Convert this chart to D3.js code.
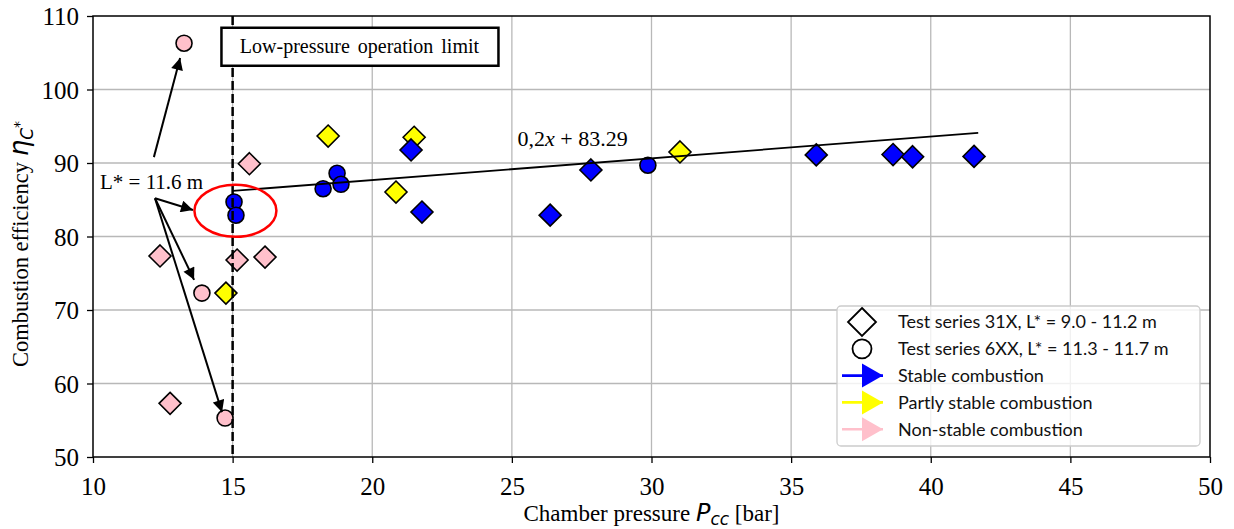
<!DOCTYPE html>
<html>
<head>
<meta charset="utf-8">
<script src="https://cdn.jsdelivr.net/npm/d3@7"></script>
<style>
  body { margin: 0; background: #fff; }
  svg { display: block; }
</style>
</head>
<body>
<div id="chart"></div>
<script>
// data
const xTicks = [10, 15, 20, 25, 30, 35, 40, 45, 50];
const yTicks = [50, 60, 70, 80, 90, 100, 110];

// test series 31X (diamonds)
const diamondP   = [15.6, 15.16, 16.16, 12.4, 12.76, 14.76, 18.42, 20.85, 21.5, 31.02, 21.39, 21.78, 26.37, 27.83, 35.9, 38.65, 39.35, 41.55];
const diamondEta = [89.9, 76.8, 77.2, 77.35, 57.3, 72.3, 93.67, 86.05, 93.5, 91.5, 91.77, 83.33, 82.9, 89.05, 91.1, 91.15, 90.85, 90.9];
const diamondState = ["non", "non", "non", "non", "non", "partly", "partly", "partly", "partly", "partly",
  "stable", "stable", "stable", "stable", "stable", "stable", "stable", "stable"];

// test series 6XX (circles)
const circleP   = [13.26, 13.9, 14.73, 15.05, 15.12, 18.24, 18.74, 18.88, 29.87];
const circleEta = [106.3, 72.3, 55.3, 84.7, 82.9, 86.5, 88.6, 87.1, 89.7];
const circleState = ["non", "non", "non", "stable", "stable", "stable", "stable", "stable", "stable"];

// fitted line as drawn in the figure
const trendP = [15, 41.7];
const trendEta = [86.2, 94.1];

const stateColor = { stable: "#0000ff", partly: "#ffff00", non: "#ffc0cb" };

const svgWidth = 1234;
const svgHeight = 529;
const plot = { left: 93, right: 1210, top: 16, bottom: 457 };

const svg = d3.select("#chart").append("svg")
  .attr("width", svgWidth)
  .attr("height", svgHeight);

const x = d3.scaleLinear().domain([10, 50]).range([plot.left, plot.right]);
const y = d3.scaleLinear().domain([50, 110]).range([plot.bottom, plot.top]);

const serif = "'Liberation Serif', 'Times New Roman', serif";

// grid
svg.append("g").selectAll("line")
  .data(xTicks.slice(1, -1)).join("line")
  .attr("x1", d => x(d)).attr("x2", d => x(d))
  .attr("y1", plot.top).attr("y2", plot.bottom)
  .attr("stroke", "#b8b8b8").attr("stroke-width", 1.3);
svg.append("g").selectAll("line")
  .data(yTicks.slice(1, -1)).join("line")
  .attr("y1", d => y(d)).attr("y2", d => y(d))
  .attr("x1", plot.left).attr("x2", plot.right)
  .attr("stroke", "#b8b8b8").attr("stroke-width", 1.3);

// axes
const xAxis = svg.append("g")
  .attr("transform", `translate(0, ${plot.bottom})`)
  .call(d3.axisBottom(x).tickValues(xTicks).tickSize(6).tickPadding(8));
const yAxis = svg.append("g")
  .attr("transform", `translate(${plot.left}, 0)`)
  .call(d3.axisLeft(y).tickValues(yTicks).tickSize(6).tickPadding(8));
[xAxis, yAxis].forEach(a => {
  a.select(".domain").remove();
  a.selectAll("line").attr("stroke", "#000").attr("stroke-width", 1.3);
  a.selectAll("text").attr("font-family", serif).attr("font-size", 25).attr("fill", "#000");
});
xAxis.selectAll("text").attr("dy", "0.95em");
yAxis.selectAll("text").attr("dy", "0.34em");

// frame
svg.append("rect")
  .attr("x", plot.left).attr("y", plot.top)
  .attr("width", plot.right - plot.left).attr("height", plot.bottom - plot.top)
  .attr("fill", "none").attr("stroke", "#000").attr("stroke-width", 1.5);

// markers
const diamond = r => `M0,${-r}L${r},0L0,${r}L${-r},0Z`;

svg.append("g").selectAll("path")
  .data(diamondP.map((p, i) => ({ p, eta: diamondEta[i], s: diamondState[i] })))
  .join("path")
  .attr("d", diamond(11))
  .attr("transform", d => `translate(${x(d.p)}, ${y(d.eta)})`)
  .attr("fill", d => stateColor[d.s])
  .attr("stroke", "#000").attr("stroke-width", 1.6);

svg.append("g").selectAll("circle")
  .data(circleP.map((p, i) => ({ p, eta: circleEta[i], s: circleState[i] })))
  .join("circle")
  .attr("cx", d => x(d.p)).attr("cy", d => y(d.eta)).attr("r", 8)
  .attr("fill", d => stateColor[d.s])
  .attr("stroke", "#000").attr("stroke-width", 1.6);

// trend line
svg.append("path")
  .datum(trendP.map((p, i) => [p, trendEta[i]]))
  .attr("d", d3.line().x(d => x(d[0])).y(d => y(d[1])))
  .attr("fill", "none").attr("stroke", "#000").attr("stroke-width", 1.8);

svg.append("text")
  .attr("x", x(25.2)).attr("y", y(92.3))
  .attr("font-family", serif).attr("font-size", 22)
  .selectAll("tspan")
  .data([["0,2", "normal"], ["x", "italic"], [" + 83.29", "normal"]])
  .join("tspan")
  .attr("font-style", d => d[1])
  .text(d => d[0]);

// low pressure limit
svg.append("line")
  .attr("x1", x(15)).attr("x2", x(15))
  .attr("y1", plot.top).attr("y2", plot.bottom)
  .attr("stroke", "#000").attr("stroke-width", 2.5)
  .attr("stroke-dasharray", "9,4");

svg.append("rect")
  .attr("x", x(14.6)).attr("y", y(108.4))
  .attr("width", 277).attr("height", 38)
  .attr("fill", "#fff").attr("stroke", "#000").attr("stroke-width", 2.5);
svg.append("text")
  .attr("x", x(14.6) + 138).attr("y", y(108.4) + 25)
  .attr("text-anchor", "middle")
  .attr("font-family", serif).attr("font-size", 20)
  .attr("word-spacing", 3)
  .text("Low-pressure operation limit");

// red ellipse around the L* = 11.6 m stable points
svg.append("ellipse")
  .attr("cx", x(15.1)).attr("cy", y(83.5))
  .attr("rx", 41).attr("ry", 26)
  .attr("fill", "none").attr("stroke", "#ff0000").attr("stroke-width", 2.5);

// annotation arrows
svg.append("defs").append("marker")
  .attr("id", "head")
  .attr("viewBox", "0 0 10 10")
  .attr("refX", 10).attr("refY", 5)
  .attr("markerWidth", 6.5).attr("markerHeight", 6)
  .attr("markerUnits", "strokeWidth")
  .attr("orient", "auto")
  .append("path").attr("d", "M0,0L10,5L0,10Z").attr("fill", "#000");

const arrowFrom = [[12.18, 90.8], [12.22, 85.2], [12.22, 85.2], [12.22, 85.2]];
const arrowTo = [[13.12, 104.3], [13.58, 83.6], [13.62, 74.1], [14.62, 56.1]];

svg.append("g").selectAll("line")
  .data(arrowFrom.map((f, i) => [f, arrowTo[i]]))
  .join("line")
  .attr("x1", d => x(d[0][0])).attr("y1", d => y(d[0][1]))
  .attr("x2", d => x(d[1][0])).attr("y2", d => y(d[1][1]))
  .attr("stroke", "#000").attr("stroke-width", 2)
  .attr("marker-end", "url(#head)");

svg.append("text")
  .attr("x", x(10.25)).attr("y", y(86.5))
  .attr("font-family", serif).attr("font-size", 21)
  .text("L* = 11.6 m");

// axis labels
const yLabel = svg.append("text")
  .attr("transform", `translate(28, 244) rotate(-90)`)
  .attr("text-anchor", "middle")
  .attr("font-family", serif).attr("font-size", 22.5);
yLabel.append("tspan").text("Combustion efficiency ");
yLabel.append("tspan").attr("font-family", "'DejaVu Sans'").attr("font-style", "italic").attr("font-size", 26).text("η");
yLabel.append("tspan").attr("font-family", "'DejaVu Sans'").attr("font-style", "italic").attr("font-size", 17).attr("dy", 5).text("C");
yLabel.append("tspan").attr("font-family", "'DejaVu Sans'").attr("font-size", 14).attr("dy", -9).text("*");

const xLabel = svg.append("text")
  .attr("x", (plot.left + plot.right) / 2).attr("y", 521)
  .attr("text-anchor", "middle")
  .attr("font-family", serif).attr("font-size", 23);
xLabel.append("tspan").text("Chamber pressure  ");
xLabel.append("tspan").attr("font-family", "'DejaVu Sans'").attr("font-style", "italic").attr("font-size", 24).text("P");
xLabel.append("tspan").attr("font-family", "'DejaVu Sans'").attr("font-style", "italic").attr("font-size", 17).attr("dy", 4).text("cc");
xLabel.append("tspan").attr("dy", -4).text(" [bar]");

// legend
const legendLabels = ["Test series 31X, L* = 9.0 - 11.2 m", "Test series 6XX, L* = 11.3 - 11.7 m",
  "Stable combustion", "Partly stable combustion", "Non-stable combustion"];
const legendKinds = ["diamond", "circle", "stable", "partly", "non"];

const legend = svg.append("g").attr("transform", "translate(837, 306)");
legend.append("rect")
  .attr("width", 363).attr("height", 140).attr("rx", 4)
  .attr("fill", "#fff").attr("fill-opacity", 0.8)
  .attr("stroke", "#cccccc").attr("stroke-width", 1.3);

const rows = legend.selectAll("g.row")
  .data(legendLabels.map((t, i) => ({ t, k: legendKinds[i] })))
  .join("g").attr("class", "row")
  .attr("transform", (d, i) => `translate(0, ${16 + i * 26.8})`);

rows.each(function(d) {
  const g = d3.select(this);
  if (d.k === "diamond") {
    g.append("path").attr("d", diamond(14)).attr("transform", "translate(25, 0)")
      .attr("fill", "#fff").attr("stroke", "#000").attr("stroke-width", 1.8);
  } else if (d.k === "circle") {
    g.append("circle").attr("cx", 25).attr("r", 9.5)
      .attr("fill", "#fff").attr("stroke", "#000").attr("stroke-width", 1.8);
  } else {
    g.append("line").attr("x1", 5).attr("x2", 46)
      .attr("stroke", stateColor[d.k]).attr("stroke-width", 2.6);
    g.append("path").attr("d", "M25,-12L46,0L25,12Z").attr("fill", stateColor[d.k]);
  }
  g.append("text").attr("x", 61).attr("dy", "0.36em")
    .attr("font-family", "Lato, 'DejaVu Sans', sans-serif").attr("font-size", 18)
    .attr("fill", "#111")
    .text(d.t);
});
</script>
</body>
</html>
